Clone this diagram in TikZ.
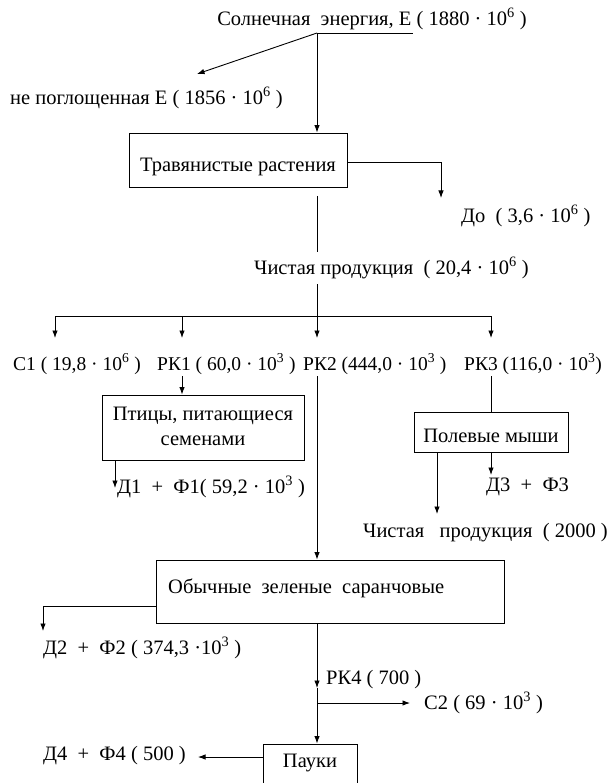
\documentclass[tikz,border=0pt]{standalone}
\usepackage{fontspec}
\setmainfont{Liberation Serif}
\usetikzlibrary{arrows.meta}
\begin{document}
\begin{tikzpicture}[x=1pt,y=-1pt,
  lbl/.style={inner sep=0pt, font=\fontsize{20.5}{25}\selectfont},
  rowlbl/.style={inner sep=0pt, font=\fontsize{19.5}{24}\selectfont},
  box/.style={draw, line width=0.9pt, inner sep=0pt},
  conn/.style={line width=0.9pt},
  arr/.style={conn, -{Latex[length=7.5pt,width=5.5pt]}}]
\useasboundingbox (0,0) rectangle (613,783);
\fill[white] (0,0) rectangle (613,783);

% top
\node[lbl] (sun) at (372,19) {Солнечная\ \ энергия, Е ( 1880 · 10\textsuperscript{6} )};
\coordinate (j0) at (317,33);
\coordinate (j0e) at (413,33);
\coordinate (npt) at (197,74);
\node[lbl, anchor=west] (np) at (10,98) {не поглощенная Е ( 1856 · 10\textsuperscript{6} )};
\node[box, minimum width=218, minimum height=54] (plants) at (238,160) {};
\node[lbl] (plantst) at (238,167) {Травянистые растения};
\coordinate (dot) at (441,198);
\node[lbl, anchor=west] (do) at (461,216) {До\ \ ( 3,6 · 10\textsuperscript{6} )};
\coordinate (plo) at (317,196);
\node[lbl, anchor=west] (np1) at (254,268) {Чистая продукция\ \ ( 20,4 · 10\textsuperscript{6} )};
\coordinate (np1a) at (317,252);
\coordinate (np1b) at (317,284);
\coordinate (hl) at (55,316);
\coordinate (hr) at (491,316);
\coordinate (hm) at (317,316);
\coordinate (h2) at (182,316);

% row of labels
\node[rowlbl, anchor=west] (c1) at (13,364) {С1 ( 19,8 · 10\textsuperscript{6} )};
\node[rowlbl, anchor=west] (rk1) at (157,364) {РК1 ( 60,0 · 10\textsuperscript{3} )};
\node[rowlbl, anchor=west] (rk2) at (303,364) {РК2 (444,0 · 10\textsuperscript{3} )};
\node[rowlbl, anchor=west] (rk3) at (464,364) {РК3 (116,0 · 10\textsuperscript{3})};
\coordinate (t1) at (55,338);
\coordinate (t2) at (182,338);
\coordinate (t3) at (317,338);
\coordinate (t4) at (491,338);
\coordinate (s2) at (182,376);
\coordinate (s3) at (317,376);
\coordinate (s4) at (491,376);

% birds
\node[box, minimum width=202, minimum height=65] (birds) at (203,427.5) {};
\node[lbl, align=center] (birdst) at (203,426) {Птицы, питающиеся\\семенами};
\coordinate (d1a) at (115,460);
\coordinate (d1b) at (115,488);
\node[lbl, anchor=west] (d1) at (117,487) {Д1\ \ +\ \ Ф1( 59,2 · 10\textsuperscript{3} )};

% mice
\node[box, minimum width=154, minimum height=40] (mice) at (491,432) {};
\node[lbl] (micet) at (491,436) {Полевые мыши};
\coordinate (d3a) at (491,452);
\coordinate (d3b) at (491,475);
\node[lbl, anchor=west] (d3) at (486,487) {Д3\ \ +\ \ Ф3};
\coordinate (npa) at (437,452);
\coordinate (npb) at (437,514);
\node[lbl, anchor=west] (np2) at (363,533) {Чистая\ \ \ продукция\ \ ( 2000 )};

% grasshoppers
\node[box, minimum width=348, minimum height=63] (grass) at (330,591.5) {};
\node[lbl, anchor=west] (grasst) at (168,588) {Обычные\ \ зеленые\ \ саранчовые};
\coordinate (d2c) at (43,631);
\node[lbl, anchor=west] (d2) at (43,648) {Д2\ \ +\ \ Ф2 ( 374,3 ·10\textsuperscript{3} )};
\coordinate (rk4t) at (317,688);
\node[lbl, anchor=west] (rk4) at (326,680) {РК4 ( 700 )};
\coordinate (c2j) at (317,703);
\coordinate (c2t) at (410,703);
\node[lbl, anchor=west] (c2) at (424,703) {С2 ( 69 · 10\textsuperscript{3} )};

% spiders
\node[box, minimum width=94, minimum height=60] (spid) at (310,774) {};
\node[lbl] (spidt) at (310,763) {Пауки};
\coordinate (d4t) at (198,757);
\node[lbl, anchor=west] (d4) at (43,756) {Д4\ \ +\ \ Ф4 ( 500 )};

% connectors
\draw[conn] (j0) -- (j0e);
\draw[arr] (j0) -- (npt);
\draw[arr] (j0) -- (j0 |- plants.north);
\draw[arr] (plants.east |- 0,162) -| (dot);
\draw[conn] (plo) -- (np1a);
\draw[conn] (np1b) -- (hm);
\draw[conn] (hl) -- (hr);
\draw[arr] (hl) -- (t1);
\draw[arr] (h2) -- (t2);
\draw[arr] (hm) -- (t3);
\draw[arr] (hr) -- (t4);
\draw[arr] (s2) -- (s2 |- birds.north);
\draw[conn] (s4) -- (s4 |- mice.north);
\draw[arr] (s3) -- (s3 |- grass.north);
\draw[arr] (d1a) -- (d1b);
\draw[arr] (d3a) -- (d3b);
\draw[arr] (npa) -- (npb);
\draw[arr] (grass.west |- 0,606) -| (d2c);
\draw[arr] (s3 |- grass.south) -- (rk4t);
\draw[arr] (rk4t) -- (s3 |- spid.north);
\draw[arr] (c2j) -- (c2t);
\draw[arr] (spid.west |- d4t) -- (d4t);
\end{tikzpicture}
\end{document}
